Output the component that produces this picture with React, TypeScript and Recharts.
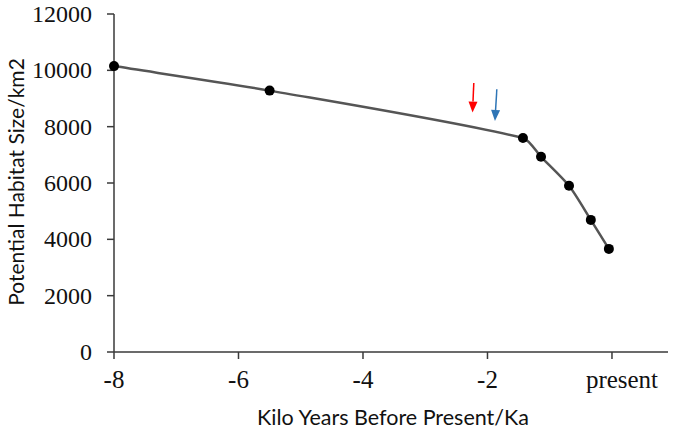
import { LineChart, Line, XAxis, YAxis, ReferenceLine } from 'recharts';

// values
const years = [-8, -5.5, -1.43, -1.14, -0.69, -0.34, -0.05];
const habitat = [10150, 9280, 7600, 6930, 5900, 4690, 3660];
const xTicks = [-8, -6, -4, -2, 0];
const yTicks = [0, 2000, 4000, 6000, 8000, 10000, 12000];

// two marker arrows: start and tip in data units
const arrowColors = ['#ff0000', '#2e75b6'];
const arrowFrom = [[-2.22, 9550], [-1.85, 9330]];
const arrowTo = [[-2.24, 8500], [-1.88, 8200]];

const data = years.map((year, i) => ({ year, habitat: habitat[i] }));

const serif = '"Liberation Serif", "Times New Roman", serif';
const sans = 'Lato, "Open Sans", sans-serif';

// smoothed line like Excel's: tangent from neighbours, handles scaled to each segment
function smoothCurve(ctx: any) {
  let pts: number[][] = [];
  const tangent = (i: number) => {
    const a = pts[i - 1] || pts[i];
    const b = pts[i + 1] || pts[i];
    const dx = b[0] - a[0];
    const dy = b[1] - a[1];
    const l = Math.sqrt(dx * dx + dy * dy) || 1;
    return [dx / l, dy / l];
  };
  return {
    areaStart() {},
    areaEnd() {},
    lineStart() {
      pts = [];
    },
    point(x: number, y: number) {
      pts.push([+x, +y]);
    },
    lineEnd() {
      if (!pts.length) return;
      ctx.moveTo(pts[0][0], pts[0][1]);
      for (let i = 0; i < pts.length - 1; i++) {
        const p1 = pts[i];
        const p2 = pts[i + 1];
        const d = Math.hypot(p2[0] - p1[0], p2[1] - p1[1]) / 4;
        const t1 = tangent(i);
        const t2 = tangent(i + 1);
        ctx.bezierCurveTo(p1[0] + t1[0] * d, p1[1] + t1[1] * d, p2[0] - t2[0] * d, p2[1] - t2[1] * d, p2[0], p2[1]);
      }
    },
  };
}

function XTick({ x, y, payload }: any) {
  const v = payload.value;
  return (
    <text x={v === 0 ? x + 10 : x} y={y + 25} textAnchor="middle" fill="#111" fontSize={25} fontFamily={serif}>
      {v === 0 ? 'present' : String(v)}
    </text>
  );
}

function YTick({ x, y, payload }: any) {
  return (
    <text x={x} y={y + 8} textAnchor="end" fill="#111" fontSize={24} fontFamily={serif}>
      {payload.value}
    </text>
  );
}

function Arrow(props: any) {
  const { x1, y1, x2, y2, stroke } = props;
  const dx = x2 - x1;
  const dy = y2 - y1;
  const len = Math.sqrt(dx * dx + dy * dy) || 1;
  const ux = dx / len;
  const uy = dy / len;
  const headLen = 11;
  const headW = 4.5;
  const bx = x2 - ux * headLen;
  const by = y2 - uy * headLen;
  const pts = `${x2},${y2} ${bx - uy * headW},${by + ux * headW} ${bx + uy * headW},${by - ux * headW}`;
  return (
    <g>
      <line x1={x1} y1={y1} x2={bx} y2={by} stroke={stroke} strokeWidth={1.5} />
      <polygon points={pts} fill={stroke} />
    </g>
  );
}

export default function App() {
  return (
    <div style={{ position: 'absolute', left: 0, top: 0, width: 675, height: 432, background: '#fff' }}>
      <LineChart width={675} height={432} data={data} margin={{ top: 14, right: 7, bottom: 0, left: 0 }}>
        <XAxis
          type="number"
          dataKey="year"
          domain={[-8, 0.9]}
          ticks={xTicks}
          height={80}
          tickSize={7}
          tickMargin={4}
          stroke="#3a3a3a"
          strokeWidth={1.5}
          tick={<XTick />}
          label={{
            content: () => (
              <text x={393} y={417} textAnchor="middle" dominantBaseline="central" fill="#111" fontSize={21.5} fontFamily={sans}>
                Kilo Years Before Present/Ka
              </text>
            ),
          }}
        />
        <YAxis
          type="number"
          domain={[0, 12000]}
          ticks={yTicks}
          width={114}
          tickSize={7}
          tickMargin={15}
          stroke="#3a3a3a"
          strokeWidth={1.5}
          tick={<YTick />}
          label={{
            content: () => (
              <text x={15} y={182} transform="rotate(-90 15 182)" textAnchor="middle" dominantBaseline="central" fill="#111" fontSize={21} fontFamily={sans}>
                Potential Habitat Size/km2
              </text>
            ),
          }}
        />
        {arrowColors.map((c, i) => (
          <ReferenceLine
            key={c}
            segment={[
              { x: arrowFrom[i][0], y: arrowFrom[i][1] },
              { x: arrowTo[i][0], y: arrowTo[i][1] },
            ]}
            stroke={c}
            shape={(p: any) => <Arrow {...p} stroke={c} />}
            ifOverflow="visible"
          />
        ))}
        <Line
          type={smoothCurve as any}
          dataKey="habitat"
          stroke="#555555"
          strokeWidth={2.5}
          dot={{ r: 5, fill: '#000', stroke: '#000', strokeWidth: 0 }}
          isAnimationActive={false}
        />
      </LineChart>
    </div>
  );
}
